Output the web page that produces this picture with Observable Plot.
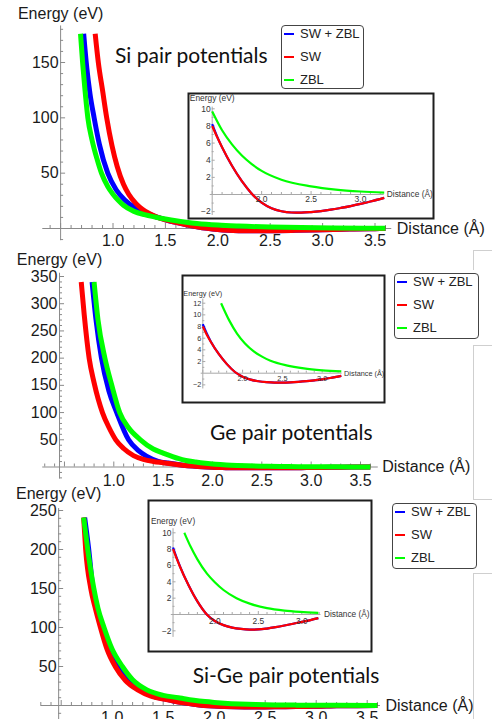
<!DOCTYPE html>
<html><head><meta charset="utf-8">
<script src="https://cdn.jsdelivr.net/npm/d3@7"></script>
<script src="https://cdn.jsdelivr.net/npm/@observablehq/plot@0.6"></script>
<style>
html,body{margin:0;padding:0;background:#fff;}
#root{position:relative;width:496px;height:719px;overflow:hidden;background:#fff;}
#root svg{position:absolute;left:0;top:0;}
.title{position:absolute;font-family:Lato,"Open Sans",sans-serif;font-size:21px;line-height:25px;color:#111;white-space:nowrap;}
.legend{position:absolute;box-sizing:border-box;border:1.5px solid #444;border-radius:4px;background:#fff;font-family:"Liberation Sans",Arial,sans-serif;font-size:13px;color:#222;}
.legend .sw{position:absolute;height:2px;}
.legend .lab{position:absolute;line-height:16px;white-space:nowrap;}
.art{position:absolute;background:#cfcfcf;}
</style></head><body><div id="root"></div><script>
const W = 496, H = 719;
const seriesNames = ["SW + ZBL", "SW", "ZBL"];
const seriesColors = ["#0000ff", "#ff0000", "#00ff00"];

// ---------- Si main ----------
const siMainSwZblX = [0.72,0.75,0.78,0.82,0.87,0.95,1.03,1.11,1.2,1.28,1.35,1.42,1.5,1.6,1.7,1.8,1.9,2.0,2.1,2.2,2.3,2.4,2.5,2.7,2.9,3.1,3.3,3.5,3.6];
const siMainSwZblY = [176,145,122,100,76,50,35,26,19.5,16,12.8,10.2,7.9,5.5,3.35,1.55,0.1,-0.95,-1.6,-1.95,-2.1,-2.12,-2.05,-1.77,-1.35,-0.82,-0.4,-0.12,-0.05];
const siMainSwX = [0.83,0.86,0.9,0.94,0.99,1.04,1.1,1.15,1.22,1.28,1.35,1.42,1.5,1.6,1.7,1.8,1.9,2.0,2.1,2.2,2.3,2.4,2.5,2.7,2.9,3.1,3.3,3.5,3.6];
const siMainSwY = [176,150,125,100,75,56,40,31,22.5,17.5,13.3,10.3,7.8,5.5,3.35,1.55,0.1,-0.95,-1.6,-1.95,-2.1,-2.12,-2.05,-1.77,-1.35,-0.82,-0.4,-0.12,-0.05];
const siMainZblX = [0.69,0.71,0.73,0.76,0.8,0.85,0.89,0.95,1.0,1.05,1.1,1.2,1.3,1.4,1.5,1.6,1.7,1.8,2.0,2.2,2.5,2.8,3.1,3.4,3.6];
const siMainZblY = [176,150,128,100,80,62,50,38,31,25.5,21,15.5,12.5,10.4,8.6,7.0,5.7,4.6,3.1,2.2,1.3,0.8,0.5,0.3,0.25];

// ---------- Ge main ----------
const geMainSwZblX = [0.78,0.82,0.875,0.95,1.03,1.15,1.25,1.33,1.45,1.55,1.6,1.7,1.8,1.9,2.0,2.1,2.2,2.3,2.4,2.5,2.6,2.7,2.8,2.9,3.0,3.1,3.3,3.5,3.6];
const geMainSwZblY = [340,270,200,140,100,50,30,20,10.5,7.2,5.8,3.4,1.6,0.25,-0.6,-1.1,-1.38,-1.53,-1.6,-1.6,-1.56,-1.48,-1.37,-1.22,-1.05,-0.82,-0.4,-0.12,-0.05];
const geMainSwX = [0.67,0.7,0.75,0.8,0.885,0.95,1.02,1.1,1.2,1.3,1.4,1.5,1.6,1.7,1.8,1.9,2.0,2.1,2.2,2.3,2.4,2.5,2.6,2.7,2.8,2.9,3.0,3.1,3.3,3.5,3.6];
const geMainSwY = [340,280,200,155,100,73,50,34,21,14,10.2,7.8,5.4,3.3,1.6,0.25,-0.6,-1.1,-1.38,-1.53,-1.6,-1.6,-1.56,-1.48,-1.37,-1.22,-1.05,-0.82,-0.4,-0.12,-0.05];
const geMainZblX = [0.8,0.84,0.91,0.98,1.06,1.15,1.27,1.4,1.5,1.59,1.66,1.73,1.83,1.93,2.03,2.14,2.25,2.35,2.55,2.77,3.0,3.24,3.6];
const geMainZblY = [340,270,200,150,100,72,50,33,25.5,19.5,15.2,12,9.1,6.8,5.1,3.75,2.8,2.15,1.35,0.82,0.5,0.3,0.15];

// ---------- Si-Ge main ----------
const sigeMainSwZblX = [0.73,0.77,0.81,0.9,0.97,1.06,1.16,1.28,1.4,1.52,1.6,1.7,1.8,1.9,2.0,2.1,2.2,2.3,2.4,2.5,2.6,2.7,2.8,2.9,3.0,3.1,3.2,3.4,3.6];
const sigeMainSwZblY = [241,200,150,100,75,50,33,20,12,8.2,5.85,3.55,1.6,0.1,-0.8,-1.3,-1.6,-1.77,-1.85,-1.83,-1.72,-1.55,-1.35,-1.13,-0.9,-0.68,-0.45,-0.18,-0.05];
const sigeMainSwX = [0.72,0.74,0.79,0.83,0.885,0.95,1.03,1.13,1.25,1.38,1.52,1.6,1.7,1.8,1.9,2.0,2.1,2.2,2.3,2.4,2.5,2.6,2.7,2.8,2.9,3.0,3.1,3.2,3.4,3.6];
const sigeMainSwY = [241,200,150,127,100,72,50,32,20,12,8,5.85,3.55,1.6,0.1,-0.8,-1.3,-1.6,-1.77,-1.85,-1.83,-1.72,-1.55,-1.35,-1.13,-0.9,-0.68,-0.45,-0.18,-0.05];
const sigeMainZblX = [0.72,0.76,0.82,0.86,0.92,1.0,1.1,1.2,1.34,1.5,1.65,1.72,1.8,1.91,2.0,2.1,2.25,2.41,2.6,2.8,2.98,3.19,3.6];
const sigeMainZblY = [241,200,150,125,100,72,50,33,20,13,10,8.35,6.75,5.0,3.95,3.0,2.0,1.3,0.78,0.48,0.32,0.2,0.1];

// ---------- Insets ----------
const siInSwZblX = [1.5,1.55,1.6,1.7,1.8,1.9,2.0,2.1,2.2,2.3,2.4,2.5,2.6,2.7,2.8,2.9,3.0,3.1,3.24];
const siInSwZblY = [8.2,6.75,5.5,3.35,1.55,0.1,-0.95,-1.6,-1.95,-2.1,-2.12,-2.05,-1.93,-1.77,-1.57,-1.35,-1.1,-0.82,-0.4];
const siInSwX = [1.5,1.55,1.6,1.7,1.8,1.9,2.0,2.1,2.2,2.3,2.4,2.5,2.6,2.7,2.8,2.9,3.0,3.1,3.24];
const siInSwY = [8.0,6.7,5.5,3.35,1.55,0.1,-0.95,-1.6,-1.95,-2.1,-2.12,-2.05,-1.93,-1.77,-1.57,-1.35,-1.1,-0.82,-0.4];
const siInZblX = [1.5,1.6,1.7,1.8,1.9,2.0,2.2,2.5,2.75,3.0,3.24];
const siInZblY = [9.7,7.5,5.85,4.55,3.55,2.75,1.72,0.95,0.57,0.35,0.22];

const geInSwZblX = [1.5,1.55,1.6,1.7,1.8,1.9,2.0,2.1,2.2,2.3,2.4,2.5,2.6,2.7,2.8,2.9,3.0,3.1,3.24];
const geInSwZblY = [8.4,6.8,5.45,3.3,1.6,0.25,-0.6,-1.1,-1.38,-1.53,-1.6,-1.6,-1.56,-1.48,-1.37,-1.22,-1.05,-0.82,-0.45];
const geInSwX = [1.5,1.55,1.6,1.7,1.8,1.9,2.0,2.1,2.2,2.3,2.4,2.5,2.6,2.7,2.8,2.9,3.0,3.1,3.24];
const geInSwY = [8.0,6.6,5.4,3.3,1.6,0.25,-0.6,-1.1,-1.38,-1.53,-1.6,-1.6,-1.56,-1.48,-1.37,-1.22,-1.05,-0.82,-0.45];
const geInZblX = [1.73,1.83,1.93,2.03,2.14,2.25,2.35,2.55,2.77,3.0,3.24];
const geInZblY = [12,9.1,6.8,5.1,3.75,2.8,2.15,1.35,0.82,0.5,0.3];

const sigeInSwZblX = [1.52,1.56,1.6,1.7,1.8,1.9,2.0,2.1,2.2,2.3,2.4,2.5,2.6,2.7,2.8,2.9,3.0,3.1,3.19];
const sigeInSwZblY = [8.2,7.0,5.9,3.55,1.6,0.1,-0.8,-1.3,-1.6,-1.77,-1.85,-1.83,-1.72,-1.55,-1.35,-1.13,-0.9,-0.68,-0.45];
const sigeInSwX = [1.52,1.56,1.6,1.7,1.8,1.9,2.0,2.1,2.2,2.3,2.4,2.5,2.6,2.7,2.8,2.9,3.0,3.1,3.19];
const sigeInSwY = [8.0,6.9,5.85,3.55,1.6,0.1,-0.8,-1.3,-1.6,-1.77,-1.85,-1.83,-1.72,-1.55,-1.35,-1.13,-0.9,-0.68,-0.45];
const sigeInZblX = [1.65,1.72,1.8,1.91,2.0,2.1,2.25,2.41,2.6,2.8,2.98,3.19];
const sigeInZblY = [10,8.35,6.75,5.0,3.95,3.0,2.0,1.3,0.78,0.48,0.32,0.2];

// ---------- tick labels ----------
const mainXLabels = [1.0,1.5,2.0,2.5,3.0,3.5];
const siYLabels = [50,100,150];
const geYLabels = [50,100,150,200,250,300,350];
const sigeYLabels = [50,100,150,200,250];
const insetXLabels = [2.0,2.5,3.0];
const siInYLabels = [-2,2,4,6,8,10];
const geInYLabels = [-2,2,4,6,8,10,12];
const sigeInYLabels = [-2,2,4,6,8,10];

const titles = ["Si pair potentials", "Ge pair potentials", "Si-Ge pair potentials"];

const root = document.getElementById("root");

function rangeStep(a, b, s) {
  const out = [];
  const n = Math.round((b - a) / s);
  for (let i = 0; i <= n; i++) out.push(+(a + i * s).toFixed(6));
  return out;
}

function makePanel(c) {
  const kx = (c.xRange[1] - c.xRange[0]) / (c.xDomain[1] - c.xDomain[0]);
  const ky = (c.yRange[0] - c.yRange[1]) / (c.yDomain[1] - c.yDomain[0]);
  const marks = [];
  if (c.box) marks.push(Plot.frame({fill: "white", stroke: "#1e1e1e", strokeWidth: 2}));
  const ax = c.axisColor;
  marks.push(Plot.ruleY([0], {x1: () => c.xAxisExt[0], x2: () => c.xAxisExt[1], stroke: ax, strokeWidth: 1}));
  marks.push(Plot.ruleX([c.yAxisAt], {y1: () => c.yAxisExt[0], y2: () => c.yAxisExt[1], stroke: ax, strokeWidth: 1}));
  const xMinor = rangeStep(c.xTickStart, c.xTickEnd, 0.1);
  marks.push(Plot.ruleX(xMinor, {x: d => d, y1: 0, y2: d => (Math.abs(d * 2 - Math.round(d * 2)) < 1e-6 ? c.majorLen : c.minorLen) / ky, stroke: ax, strokeWidth: 1}));
  const yMinor = rangeStep(c.yTickStart, c.yTickEnd, c.yMinorStep);
  const isMajor = v => c.yLabels.includes(v);
  marks.push(Plot.ruleY(yMinor.filter(v => v !== 0), {y: d => d, x1: () => c.yAxisAt, x2: d => c.yAxisAt + (isMajor(d) ? c.majorLen : c.minorLen) / kx, stroke: ax, strokeWidth: 1}));
  c.series.forEach(([xs, ys], i) => {
    const data = xs.map((x, j) => ({x, y: ys[j]}));
    marks.push(Plot.line(data, {x: "x", y: "y", stroke: seriesColors[i], strokeWidth: c.lineWidth, curve: "monotone-x", strokeLinecap: "butt"}));
  });
  const ff = "Liberation Sans, Arial, sans-serif";
  marks.push(Plot.text(c.xLabels, {x: d => d, y: () => 0, text: d => d.toFixed(1), dy: c.xLabelDy, fontSize: c.fontSize, fill: c.textColor, fontFamily: ff}));
  marks.push(Plot.text(c.yLabels, {x: () => c.yAxisAt, y: d => d, text: d => (d < 0 ? "\u2212" + Math.abs(d) : String(d)), textAnchor: "end", dx: c.yLabelDx, fontSize: c.fontSize, fill: c.textColor, fontFamily: ff}));
  marks.push(Plot.text([{x: c.yAxisAt, y: c.yAxisExt[1], t: "Energy (eV)"}], {x: "x", y: "y", text: "t", dy: c.energyDy, fontSize: c.titleSize, fill: c.textColor, fontFamily: ff}));
  marks.push(Plot.text([{x: c.xAxisExt[1], y: 0, t: "Distance (\u00c5)"}], {x: "x", y: "y", text: "t", textAnchor: "start", dx: c.distDx, fontSize: c.titleSize, fill: c.textColor, fontFamily: ff}));

  const svg = Plot.plot({
    width: W, height: H,
    marginLeft: c.box ? c.box[0] : 0, marginTop: c.box ? c.box[1] : 0,
    marginRight: c.box ? W - c.box[2] : 0, marginBottom: c.box ? H - c.box[3] : 0,
    style: {background: "transparent", overflow: "visible"},
    x: {domain: c.xDomain, range: c.xRange, axis: null},
    y: {domain: c.yDomain, range: c.yRange, axis: null},
    marks
  });
  root.appendChild(svg);
}

const mainCommon = {axisColor: "#8a8a8a", textColor: "#1a1a1a", fontSize: 16, titleSize: 16, lineWidth: 5, majorLen: 5, minorLen: 3, xLabelDy: 12, yLabelDx: -2, distDx: 5, xLabels: mainXLabels};
const insetCommon = {axisColor: "#a8a8a8", textColor: "#333", lineWidth: 2.2, majorLen: 3, minorLen: 2, yLabelDx: -1.5, xLabels: insetXLabels, yMinorStep: 1};

makePanel({...mainCommon, xDomain: [1.0, 3.5], xRange: [112.5, 374.5], yDomain: [0, 150], yRange: [228, 62],
  yAxisAt: 0.5, xAxisExt: [0.33, 3.66], yAxisExt: [-11, 183], xTickStart: 0.4, xTickEnd: 3.6,
  yTickStart: -10, yTickEnd: 180, yMinorStep: 10, yLabels: siYLabels, energyDy: -12,
  series: [[siMainSwZblX, siMainSwZblY], [siMainSwX, siMainSwY], [siMainZblX, siMainZblY]]});
makePanel({...mainCommon, xDomain: [1.0, 3.5], xRange: [113.3, 360], yDomain: [0, 350], yRange: [466.5, 276],
  yAxisAt: 0.45, xAxisExt: [0.28, 3.68], yAxisExt: [-22, 356], xTickStart: 0.3, xTickEnd: 3.6, xLabelDy: 13.5, distDx: 4,
  yTickStart: -20, yTickEnd: 350, yMinorStep: 10, yLabels: geYLabels, energyDy: -13.5,
  series: [[geMainSwZblX, geMainSwZblY], [geMainSwX, geMainSwY], [geMainZblX, geMainZblY]]});
makePanel({...mainCommon, xDomain: [1.0, 3.5], xRange: [111.7, 366.7], yDomain: [0, 250], yRange: [705, 510],
  yAxisAt: 0.475, xAxisExt: [0.3, 3.63], yAxisExt: [-20, 252.5], xTickStart: 0.3, xTickEnd: 3.6, xLabelDy: 12.7,
  yTickStart: -20, yTickEnd: 250, yMinorStep: 10, yLabels: sigeYLabels, energyDy: -15,
  series: [[sigeMainSwZblX, sigeMainSwZblY], [sigeMainSwX, sigeMainSwY], [sigeMainZblX, sigeMainZblY]]});

makePanel({...insetCommon, box: [188, 93, 433, 218], fontSize: 8.5, titleSize: 8.4,
  xDomain: [1.5, 3.0], xRange: [211.7, 360], yDomain: [0, 10], yRange: [194, 108.3],
  yAxisAt: 1.5, xAxisExt: [1.48, 3.24], yAxisExt: [-2.45, 10.2], xTickStart: 1.5, xTickEnd: 3.2,
  yTickStart: -2, yTickEnd: 10, yLabels: siInYLabels, xLabelDy: 5, energyDy: -8.4, distDx: 2.5,
  series: [[siInSwZblX, siInSwZblY], [siInSwX, siInSwY], [siInZblX, siInZblY]]});
makePanel({...insetCommon, box: [182, 275, 384, 402], fontSize: 7.3, titleSize: 7.3,
  xDomain: [1.5, 3.0], xRange: [202.3, 321.7], yDomain: [0, 12], yRange: [372.7, 302.7],
  yAxisAt: 1.5, xAxisExt: [1.48, 3.25], yAxisExt: [-2.7, 12.7], xTickStart: 1.5, xTickEnd: 3.2,
  yTickStart: -2, yTickEnd: 12, yLabels: geInYLabels, xLabelDy: 5, energyDy: -5.5, distDx: 2,
  series: [[geInSwZblX, geInSwZblY], [geInSwX, geInSwY], [geInZblX, geInZblY]]});
makePanel({...insetCommon, box: [148, 500, 371, 651], fontSize: 8.4, titleSize: 8.3,
  xDomain: [2.0, 3.0], xRange: [214.3, 301.3], yDomain: [0, 10], yRange: [614, 532.3],
  yAxisAt: 1.52, xAxisExt: [1.5, 3.22], yAxisExt: [-2.8, 10.5], xTickStart: 1.6, xTickEnd: 3.2,
  yTickStart: -2, yTickEnd: 10, yLabels: sigeInYLabels, xLabelDy: 6.5, energyDy: -7.6, distDx: 3,
  series: [[sigeInSwZblX, sigeInSwZblY], [sigeInSwX, sigeInSwY], [sigeInZblX, sigeInZblY]]});

const titlePos = [[115, 41.5], [210, 419], [192.7, 661.5]];
titles.forEach((t, i) => {
  const d = document.createElement("div");
  d.className = "title";
  d.textContent = t;
  d.style.left = titlePos[i][0] + "px";
  d.style.top = titlePos[i][1] + "px";
  root.appendChild(d);
});

const legendBoxes = [[281, 25, 83, 64], [394, 273, 85, 66], [392, 503, 85, 66]];
legendBoxes.forEach(([l, t, w, h]) => {
  const box = document.createElement("div");
  box.className = "legend";
  Object.assign(box.style, {left: l + "px", top: t + "px", width: w + "px", height: h + "px"});
  seriesNames.forEach((name, i) => {
    const cy = 8.5 + i * 22.8;
    const sw = document.createElement("div");
    sw.className = "sw";
    Object.assign(sw.style, {left: "2px", width: "10px", top: (cy - 1.5) + "px", background: seriesColors[i]});
    const lab = document.createElement("div");
    lab.className = "lab";
    lab.textContent = name;
    Object.assign(lab.style, {left: "18px", top: (cy - 8.5) + "px"});
    box.appendChild(sw);
    box.appendChild(lab);
  });
  root.appendChild(box);
});

[[473, 250, 1, 20], [473, 345, 1, 154], [473, 573, 1, 146], [473, 250, 19, 1], [473, 345, 19, 1], [473, 499, 19, 1], [473, 573, 19, 1]]
  .forEach(([l, t, w, h]) => {
    const d = document.createElement("div");
    d.className = "art";
    Object.assign(d.style, {left: l + "px", top: t + "px", width: w + "px", height: h + "px"});
    root.appendChild(d);
  });
</script></body></html>
